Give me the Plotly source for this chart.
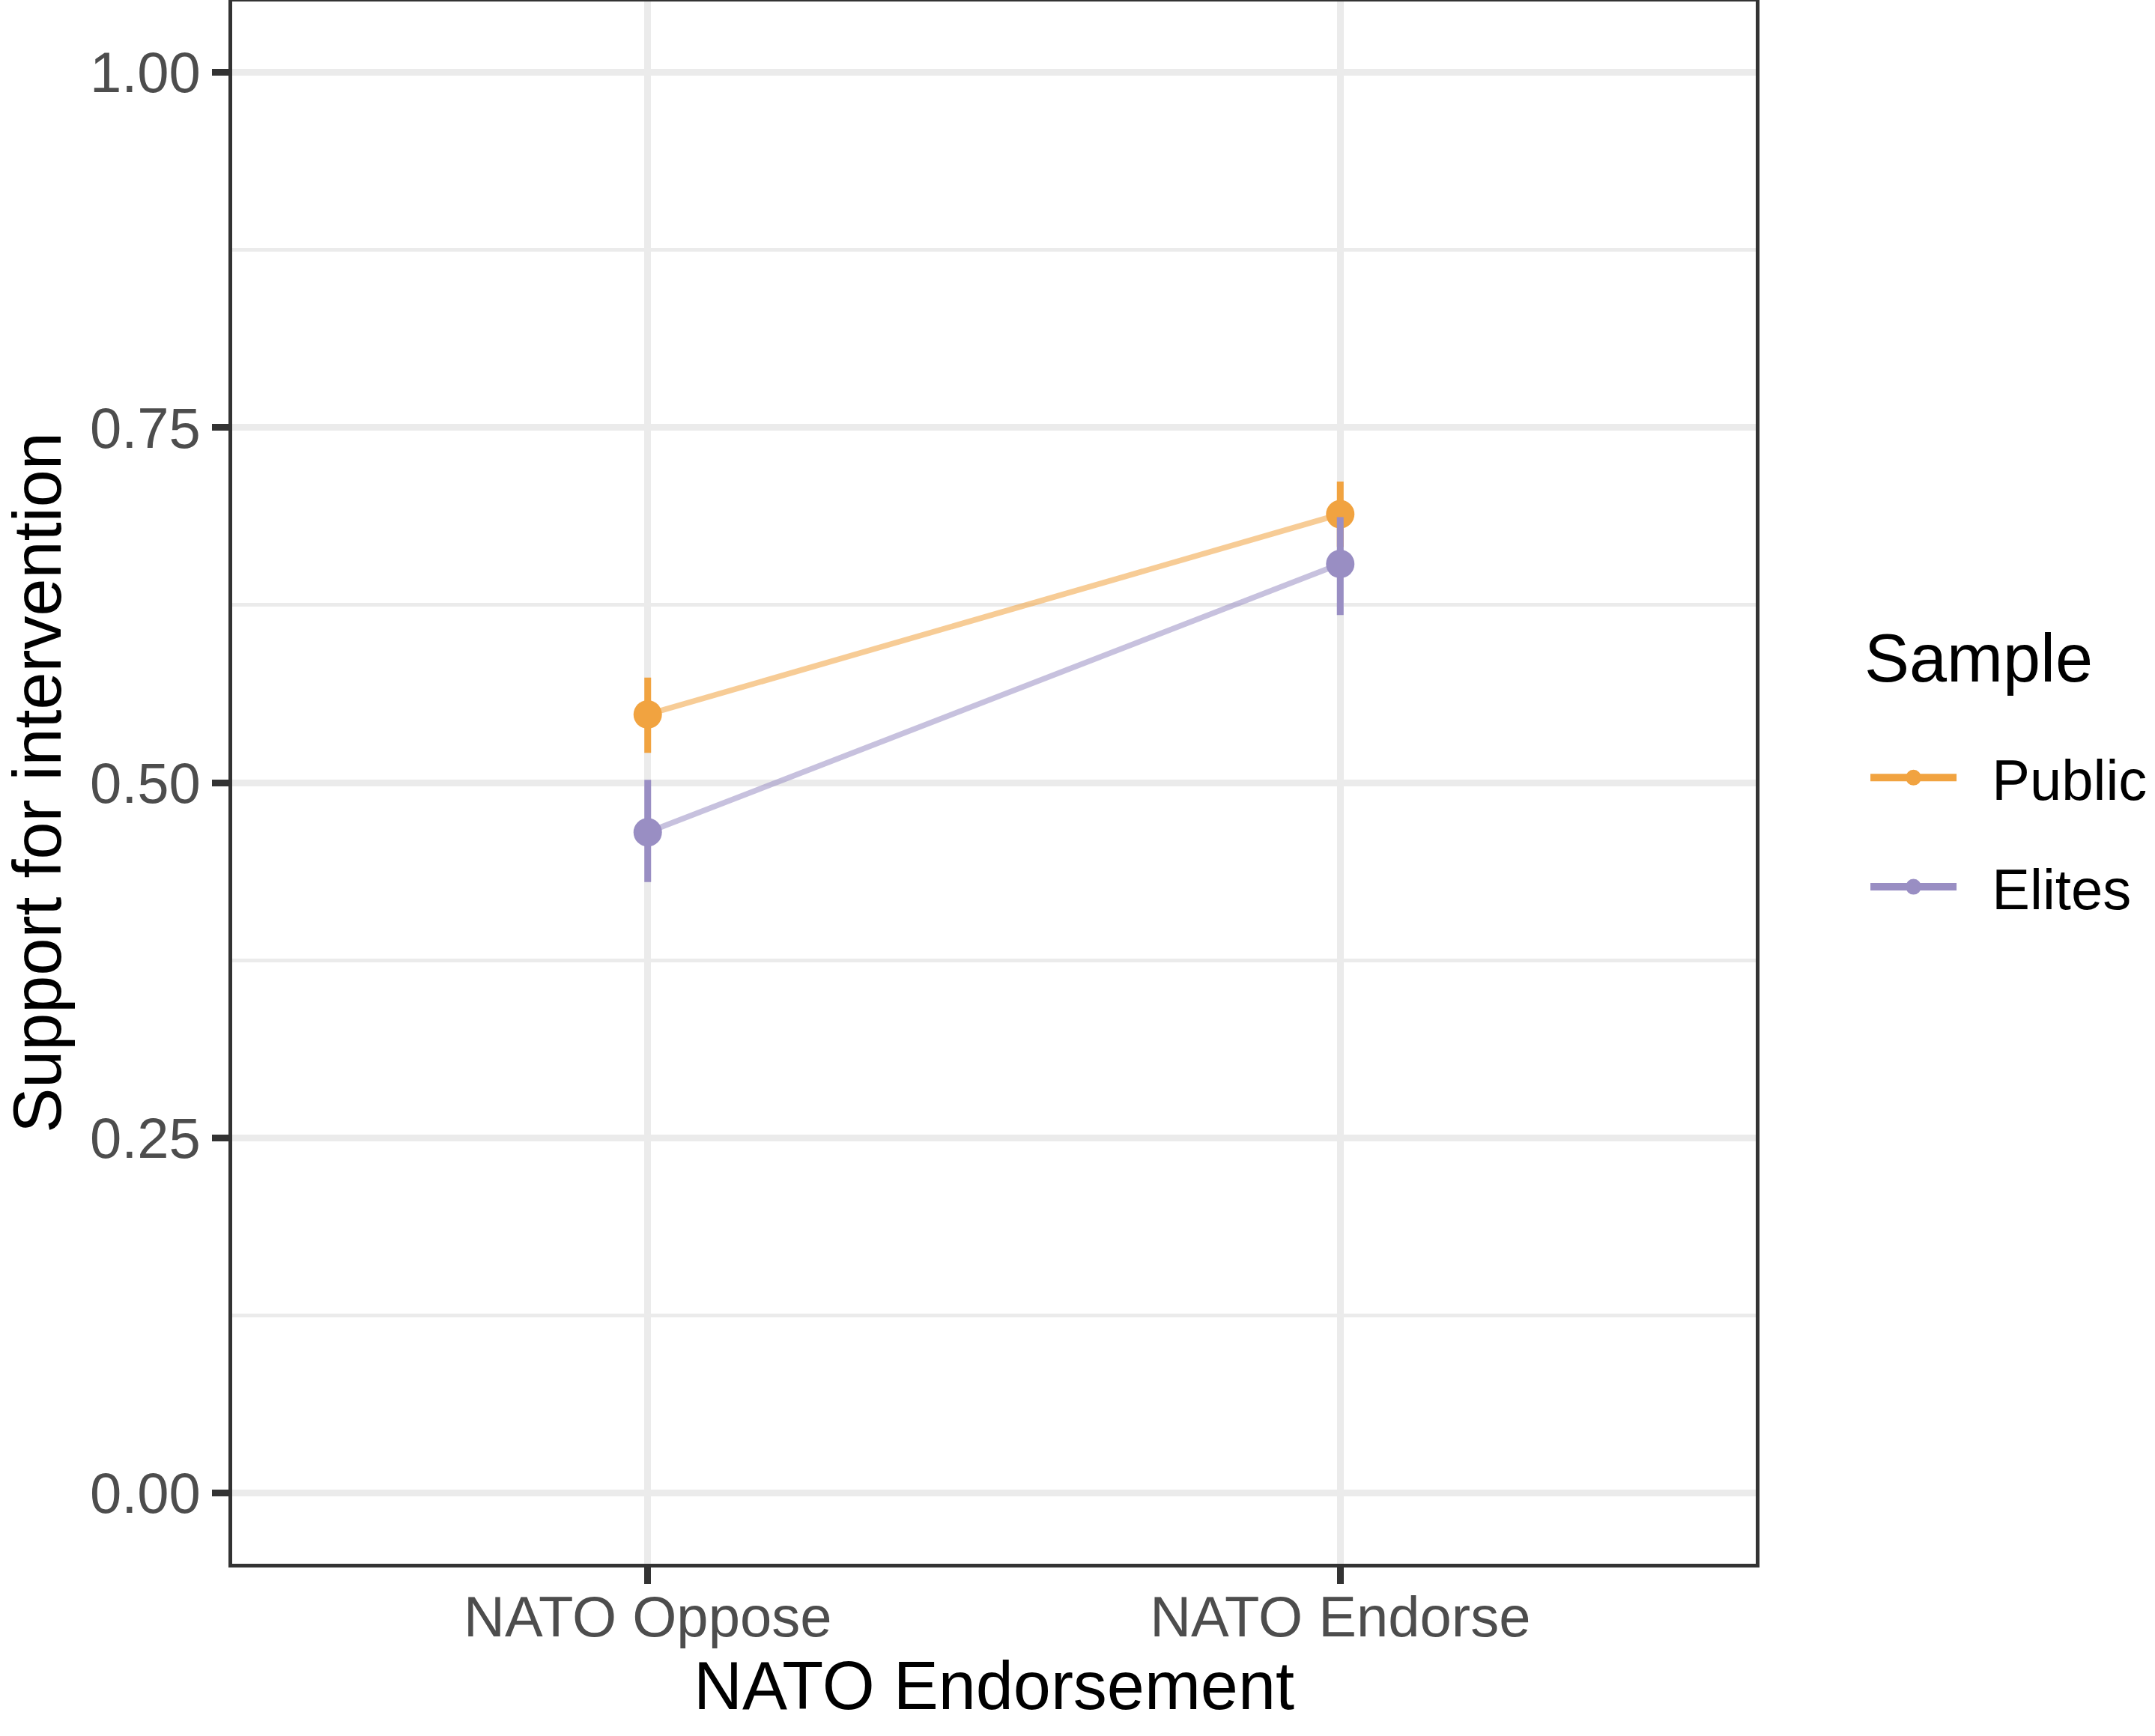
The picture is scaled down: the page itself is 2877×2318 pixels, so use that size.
import plotly.graph_objects as go

# values
conditions = ["NATO Oppose", "NATO Endorse"]
samples = ["Public", "Elites"]
support_public = [0.548, 0.689]
lower_public = [0.521, 0.666]
upper_public = [0.574, 0.712]
support_elites = [0.465, 0.654]
lower_elites = [0.430, 0.618]
upper_elites = [0.502, 0.687]
y_ticks = [0.0, 0.25, 0.5, 0.75, 1.0]

colors = {"Public": "#F1A340", "Elites": "#998EC3"}
faded = {"Public": "rgba(241,163,64,0.55)", "Elites": "rgba(153,142,195,0.55)"}

series = {
    "Public": (support_public, lower_public, upper_public),
    "Elites": (support_elites, lower_elites, upper_elites),
}

FONT = "Liberation Sans, Arial, Helvetica, sans-serif"

fig = go.Figure()

# faded connecting lines first (underneath)
for s in samples:
    est, lo, hi = series[s]
    fig.add_trace(go.Scatter(
        x=conditions, y=est, mode="lines",
        line=dict(color=faded[s], width=7.5),
        showlegend=False, hoverinfo="skip",
    ))

# point ranges
for s in samples:
    est, lo, hi = series[s]
    fig.add_trace(go.Scatter(
        x=conditions, y=est, mode="markers",
        marker=dict(color=colors[s], size=38, line=dict(width=0)),
        error_y=dict(
            type="data", symmetric=False,
            array=[h - e for h, e in zip(hi, est)],
            arrayminus=[e - l for e, l in zip(est, lo)],
            color=colors[s], thickness=9, width=0,
        ),
        showlegend=False,
    ))

# legend entries
for s in samples:
    fig.add_trace(go.Scatter(
        x=[None], y=[None], mode="lines+markers",
        name="\u00a0\u00a0" + s,
        legendgroup=s,
        line=dict(color=colors[s], width=10),
        marker=dict(color=colors[s], size=38, line=dict(color=colors[s], width=5)),
    ))

fig.update_layout(
    width=2877, height=2318,
    margin=dict(l=310, r=533, t=2, b=230, autoexpand=False),
    paper_bgcolor="white", plot_bgcolor="white",
    font=dict(family=FONT, color="black"),
    legend=dict(
        font=dict(size=76, color="black"),
        x=1.0728, xanchor="left", y=0.530, yanchor="top",
        tracegroupgap=44, itemwidth=115,
        bgcolor="rgba(0,0,0,0)",
    ),
    annotations=[dict(
        text="Sample", xref="paper", yref="paper",
        x=1.0703, y=0.5796, xanchor="left", yanchor="middle",
        showarrow=False, font=dict(size=90, color="black", family=FONT),
    )],
)

fig.update_xaxes(
    type="category", range=[-0.6, 1.6],
    showline=True, mirror=True, linecolor="#333333", linewidth=5,
    ticks="outside", ticklen=22, tickwidth=9, tickcolor="#333333",
    tickfont=dict(size=76, color="#4D4D4D", family=FONT),
    ticklabelstandoff=-21,
    showgrid=True, gridcolor="#EBEBEB", gridwidth=9,
    zeroline=False,
    title=dict(text="NATO Endorsement", font=dict(size=90, color="black"), standoff=10),
)

fig.update_yaxes(
    range=[-0.05, 1.05],
    tickvals=y_ticks, ticktext=[f"{v:.2f}" for v in y_ticks],
    showline=True, mirror=True, linecolor="#333333", linewidth=5,
    ticks="outside", ticklen=22, tickwidth=9, tickcolor="#333333",
    tickfont=dict(size=76, color="#4D4D4D", family=FONT),
    showgrid=True, gridcolor="#EBEBEB", gridwidth=9,
    minor=dict(tick0=0.125, dtick=0.25, showgrid=True, gridcolor="#EBEBEB", gridwidth=4.5, ticks=""),
    zeroline=False,
    title=dict(text="Support for intervention", font=dict(size=90, color="black"), standoff=20),
)

fig.write_html(
    "out.html",
    config={"displayModeBar": False},
    post_script="document.body.style.margin='0';",
)
